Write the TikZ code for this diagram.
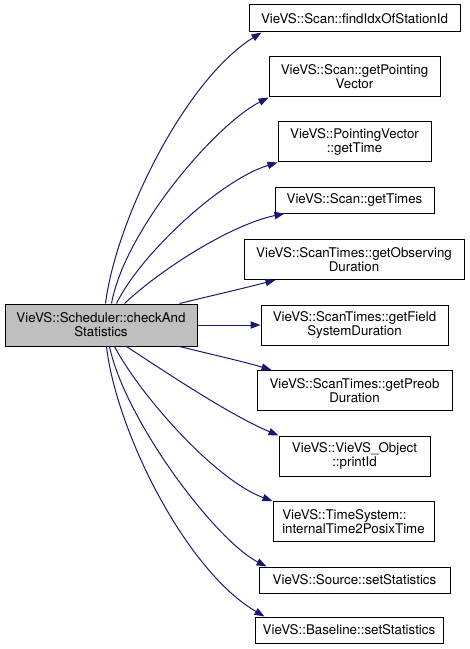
\documentclass[tikz,border=0pt]{standalone}
\usepackage{fontspec}
\setmainfont{TeX Gyre Heros}
\usetikzlibrary{arrows.meta,calc}
\definecolor{edgeblue}{HTML}{191970}
\definecolor{mainfill}{HTML}{BFBFBF}
\begin{document}
\begin{tikzpicture}[x=0.75pt,y=-0.75pt,
  box/.style 2 args={draw=black,line width=0.75pt,fill=white,inner sep=0pt,
    minimum width=#1*0.75pt,minimum height=#2*0.75pt,align=center,
    font=\fontsize{10}{10.5}\selectfont},
  link/.style={draw=edgeblue,line width=0.75pt,-{Triangle[length=7.5pt,width=5.5pt]}, fill=none}]
\useasboundingbox (0,0) rectangle (469,649);
\node[box={192}{42},fill=mainfill] (m) at (101,325) {VieVS::Scheduler::checkAnd\\Statistics};
\node[box={211}{27}] (b1) at (354.5,18.5) {VieVS::Scan::findIdxOfStationId};
\node[box={171}{40}] (b2) at (354.5,77) {VieVS::Scan::getPointing\\Vector};
\node[box={153}{40}] (b3) at (354.5,142) {VieVS::PointingVector\\::getTime};
\node[box={159}{26}] (b4) at (354.5,200) {VieVS::Scan::getTimes};
\node[box={220}{40}] (b5) at (354,259.5) {VieVS::ScanTimes::getObserving\\Duration};
\node[box={187}{40}] (b6) at (354.5,325) {VieVS::ScanTimes::getField\\SystemDuration};
\node[box={195}{40}] (b7) at (354.5,390.5) {VieVS::ScanTimes::getPreob\\Duration};
\node[box={151}{40}] (b8) at (354.5,456) {VieVS::VieVS\_Object\\::printId};
\node[box={161}{40},align=left] (b9) at (353.5,521.5) {VieVS::TimeSystem::\\internalTime2PosixTime};
\node[box={191}{26}] (b10) at (354.5,580) {VieVS::Source::setStatistics};
\node[box={188}{26}] (b11) at (349,630) {VieVS::Baseline::setStatistics};
\draw[link] ($(m.north west)+(101,0)$) .. controls (116,220) and (185,80) .. ($(b1.south west)+(13,0)$);
\draw[link] ($(m.north west)+(107,0)$) .. controls (125,230) and (215,125) .. (b2.south west);
\draw[link] ($(m.north west)+(112,0)$) .. controls (140,255) and (220,180) .. (b3.south west);
\draw[link] ($(m.north west)+(120,0)$) .. controls (160,270) and (230,225) .. ($(b4.south west)+(10,0)$);
\draw[link] ($(m.north west)+(175,0)$) .. controls (210,296) and (245,288) .. ($(b5.south west)+(32,0)$);
\draw[link] (m.east) -- (b6.west);
\draw[link] ($(m.south west)+(175,0)$) .. controls (210,354) and (245,362) .. ($(b7.north west)+(15,0)$);
\draw[link] ($(m.south west)+(122,0)$) .. controls (170,375) and (230,415) .. (b8.north west);
\draw[link] ($(m.south west)+(110,0)$) .. controls (140,395) and (215,480) .. (b9.north west);
\draw[link] ($(m.south west)+(105,0)$) .. controls (125,420) and (215,540) .. ($(b10.north west)+(8,0)$);
\draw[link] ($(m.south west)+(102,0)$) .. controls (116,430) and (185,570) .. ($(b11.north west)+(10,0)$);
\end{tikzpicture}
\end{document}
